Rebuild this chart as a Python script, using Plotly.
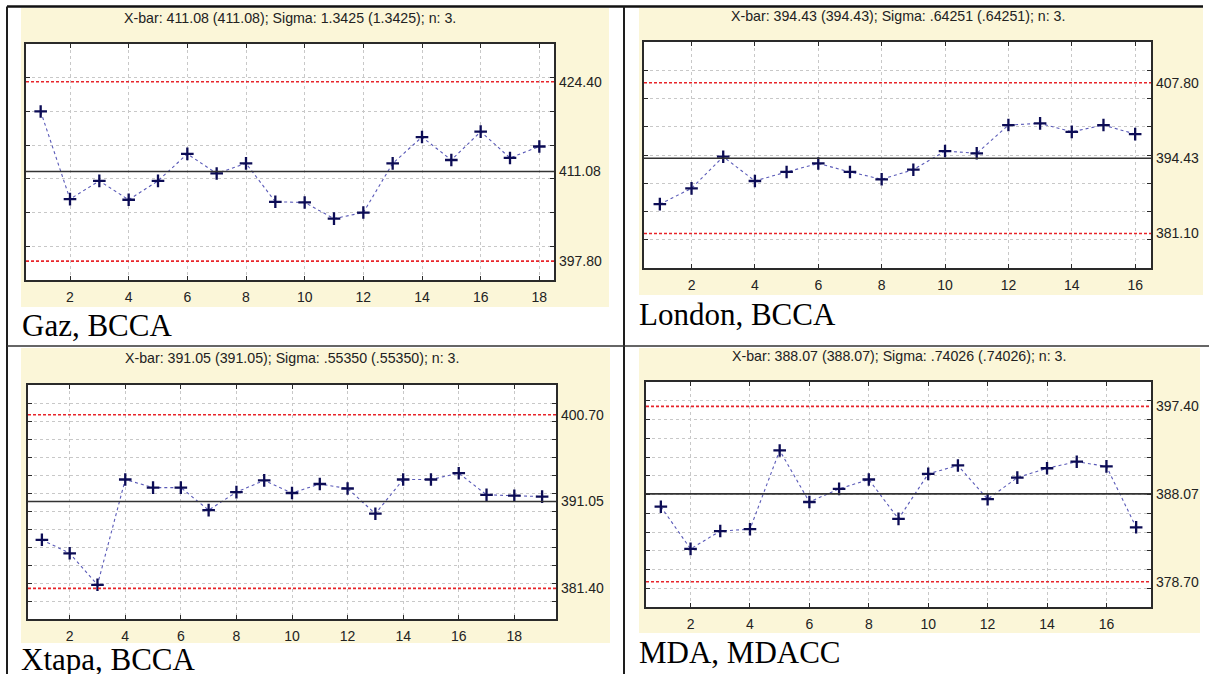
import plotly.graph_objects as go

W, H = 1209, 674

# ---- X-bar chart data: sample means per subgroup ----
gaz_means = [420.0, 407.0, 409.7, 406.9, 409.7, 413.7, 410.8, 412.3, 406.6,
             406.5, 404.1, 405.0, 412.3, 416.2, 412.8, 417.0, 413.1, 414.8]
london_means = [386.3, 389.1, 394.7, 390.4, 392.0, 393.5, 392.0, 390.7,
                392.4, 395.7, 395.3, 400.3, 400.6, 399.1, 400.3, 398.7]
xtapa_means = [386.8, 385.3, 381.8, 393.5, 392.6, 392.6, 390.1, 392.1, 393.4,
               392.0, 393.0, 392.5, 389.7, 393.5, 393.5, 394.2, 391.8, 391.7, 391.6]
mda_means = [386.7, 382.2, 384.1, 384.3, 392.7, 387.2, 388.6, 389.6, 385.4,
             390.2, 391.1, 387.5, 389.8, 390.8, 391.5, 391.0, 384.5]

# control limits: (LCL, center line, UCL)
gaz_limits = (397.80, 411.08, 424.40)
london_limits = (381.10, 394.43, 407.80)
xtapa_limits = (381.40, 391.05, 400.70)
mda_limits = (378.70, 388.07, 397.40)

gaz_title = "X-bar: 411.08 (411.08); Sigma: 1.3425 (1.3425); n: 3."
london_title = "X-bar: 394.43 (394.43); Sigma: .64251 (.64251); n: 3."
xtapa_title = "X-bar: 391.05 (391.05); Sigma: .55350 (.55350); n: 3."
mda_title = "X-bar: 388.07 (388.07); Sigma: .74026 (.74026); n: 3."

captions = ["Gaz, BCCA", "London, BCCA", "Xtapa, BCCA", "MDA, MDACC"]

# ---- layout geometry (pixels) ----
panels = [
    dict(means=gaz_means, limits=gaz_limits, title=gaz_title, caption=captions[0],
         plot=(26, 44, 554, 280), bg=(21, 8, 609, 307), yr=(395, 430), dy=5,
         title_y=18, cap=(20, 326)),
    dict(means=london_means, limits=london_limits, title=london_title, caption=captions[1],
         plot=(644, 42, 1151, 268), bg=(639, 8, 1203, 295), yr=(375, 415), dy=5,
         title_y=16, cap=(637, 314)),
    dict(means=xtapa_means, limits=xtapa_limits, title=xtapa_title, caption=captions[2],
         plot=(28, 385, 556, 619), bg=(21, 348, 610, 643), yr=(378, 404), dy=2,
         title_y=358, cap=(19, 659)),
    dict(means=mda_means, limits=mda_limits, title=mda_title, caption=captions[3],
         plot=(646, 382, 1151, 607), bg=(639, 348, 1200, 633), yr=(376, 400), dy=2,
         title_y=356, cap=(637, 652)),
]

BEIGE = "#FBF6D8"
AX = "#2a2a2a"
GRID = "#c8c8c8"
SANS = "Liberation Sans, Arial, sans-serif"
SERIF = "Liberation Serif"

fig = go.Figure()
shapes, annotations = [], []
layout = {}


def px(x):
    return x / W


def py(y):
    return 1 - y / H


for i, p in enumerate(panels):
    k = i + 1
    xs = "" if k == 1 else str(k)
    xa, ya = "x" + xs, "y" + xs
    lab = "y" + str(k + 4)
    n = len(p["means"])
    samples = list(range(1, n + 1))
    lcl, cl, ucl = p["limits"]
    x0, y0, x1, y1 = p["plot"]

    # panel background, with the white plotting area on top of it
    bx0, by0, bx1, by1 = p["bg"]
    shapes.append(dict(type="rect", xref="paper", yref="paper", layer="below",
                       x0=px(bx0), x1=px(bx1), y0=py(by1), y1=py(by0),
                       fillcolor=BEIGE, line=dict(width=0)))
    shapes.append(dict(type="rect", xref="paper", yref="paper", layer="below",
                       x0=px(x0), x1=px(x1), y0=py(y1), y1=py(y0),
                       fillcolor="white", line=dict(width=0)))

    # control limits and center line (on the labelled right-hand axis)
    for val, col, dash in [(ucl, "#E8242A", "3px,2px"),
                           (lcl, "#E8242A", "3px,2px"),
                           (cl, "#333333", "solid")]:
        fig.add_trace(go.Scatter(x=[0.5, n + 0.5], y=[val, val], mode="lines",
                                 line=dict(color=col, width=1.6, dash=dash),
                                 xaxis=xa, yaxis=lab, hoverinfo="skip"))

    # subgroup means
    fig.add_trace(go.Scatter(
        x=samples, y=p["means"], mode="lines+markers",
        line=dict(color="#5a5ab8", width=1.1, dash="dot"),
        marker=dict(symbol="cross-thin", size=9,
                    line=dict(width=2.3, color="#0c0c55")),
        xaxis=xa, yaxis=ya))

    layout["xaxis" + xs] = dict(
        domain=[px(x0), px(x1)], anchor=ya, range=[0.5, n + 0.5],
        tick0=2, dtick=2, showgrid=True, gridcolor=GRID, griddash="dot",
        gridwidth=1, zeroline=False, showline=True, linecolor=AX, linewidth=1.5,
        mirror="ticks", ticks="inside", ticklen=4, tickcolor=AX,
        tickfont=dict(family=SANS, size=14, color="#222"), ticklabelstandoff=3)
    layout["yaxis" + xs] = dict(
        domain=[py(y1), py(y0)], anchor=xa, range=list(p["yr"]),
        tick0=0, dtick=p["dy"], showgrid=True, gridcolor=GRID, griddash="dot",
        gridwidth=1, zeroline=False, showline=True, linecolor=AX, linewidth=1.5,
        mirror="ticks", ticks="inside", ticklen=4, tickcolor=AX,
        showticklabels=False)
    # right-hand labels for the control limits
    layout["yaxis" + str(k + 4)] = dict(
        overlaying=ya, anchor=xa, side="right", range=list(p["yr"]),
        tickvals=[lcl, cl, ucl], ticktext=[f"{v:.2f}" for v in (lcl, cl, ucl)],
        showgrid=False, zeroline=False, showline=False, ticks="",
        tickfont=dict(family=SANS, size=14, color="#222"), ticklabelstandoff=4)

    # chart heading
    annotations.append(dict(text=p["title"], xref="paper", yref="paper",
                            x=px((x0 + x1) / 2), y=py(p["title_y"]),
                            xanchor="center", yanchor="middle", showarrow=False,
                            font=dict(family=SANS, size=14.2, color="#222")))
    # site caption
    cx, cy = p["cap"]
    annotations.append(dict(text=p["caption"], xref="paper", yref="paper",
                            x=px(cx), y=py(cy), xanchor="left", yanchor="middle",
                            showarrow=False,
                            font=dict(family=SERIF, size=31, color="#000")))

# table rules framing the four panels
rule = dict(color="#1e1e1e", width=2)
shapes += [
    dict(type="line", xref="paper", yref="paper", x0=px(7), x1=px(1203),
         y0=py(6.5), y1=py(6.5), line=dict(color="#111", width=2.5)),
    dict(type="line", xref="paper", yref="paper", x0=px(7), x1=px(7),
         y0=py(6.5), y1=0, line=rule),
    dict(type="line", xref="paper", yref="paper", x0=px(624), x1=px(624),
         y0=py(6.5), y1=0, line=rule),
    dict(type="line", xref="paper", yref="paper", x0=px(7), x1=1,
         y0=py(346), y1=py(346), line=dict(color="#333", width=1.6)),
]

fig.update_layout(
    width=W, height=H, margin=dict(l=0, r=0, t=0, b=0),
    paper_bgcolor="white", plot_bgcolor="white", showlegend=False,
    shapes=shapes, annotations=annotations, **layout)

fig.write_html("out.html")
